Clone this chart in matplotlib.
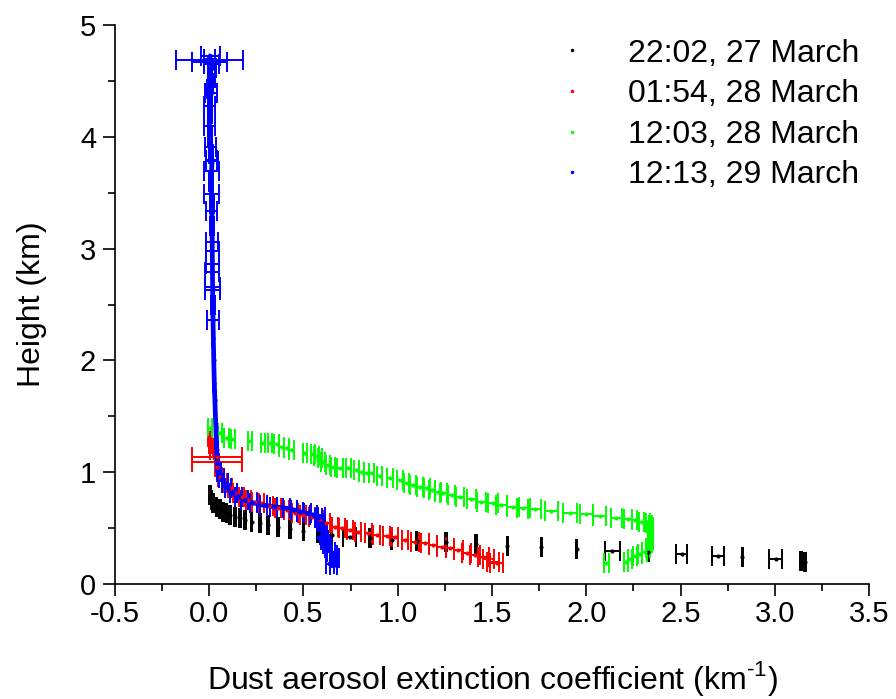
import matplotlib.pyplot as plt
from matplotlib.ticker import MultipleLocator, FormatStrFormatter

plt.rcParams['font.family'] = ['Liberation Sans', 'DejaVu Sans']
plt.rcParams['mathtext.fontset'] = 'custom'
plt.rcParams['mathtext.rm'] = 'Liberation Sans'

# Dust extinction profiles (x in km^-1, height in km)
labels = ['22:02, 27 March', '01:54, 28 March', '12:03, 28 March', '12:13, 29 March']
colors = ['#000000', '#ff0000', '#00ff00', '#0000ff']

black_x = [0.004, 0.013, 0.021, 0.039, 0.057, 0.074, 0.092, 0.110, 0.136, 0.163,
           0.189, 0.225, 0.269, 0.313, 0.366, 0.428, 0.499, 0.578, 0.649, 0.746,
           0.852, 0.967, 1.100, 1.255, 1.414, 1.582, 1.762, 1.948, 2.137, 2.328,
           2.505, 2.699, 2.828, 3.005, 3.140, 3.160]
black_h = [0.796, 0.751, 0.722, 0.692, 0.668, 0.647, 0.632, 0.617, 0.602, 0.587,
           0.572, 0.557, 0.543, 0.528, 0.513, 0.489, 0.477, 0.453, 0.438, 0.423,
           0.409, 0.394, 0.385, 0.375, 0.358, 0.343, 0.328, 0.313, 0.298, 0.283,
           0.268, 0.250, 0.238, 0.226, 0.205, 0.195]
black_err = [0.004, 0.004, 0.004, 0.004, 0.004, 0.004, 0.004, 0.004, 0.004, 0.004,
             0.004, 0.004, 0.004, 0.004, 0.004, 0.004, 0.004, 0.004, 0.004, 0.035,
             0.004, 0.004, 0.004, 0.004, 0.004, 0.004, 0.004, 0.004, 0.040, 0.004,
             0.030, 0.032, 0.004, 0.034, 0.006, 0.006]

red_x = [0.000, 0.005, 0.008, 0.010, 0.013, 0.040, 0.040, 0.039, 0.057, 0.083,
         0.110, 0.136, 0.172, 0.207, 0.242, 0.278, 0.322, 0.366, 0.410, 0.454,
         0.499, 0.543, 0.587, 0.622, 0.666, 0.702, 0.746, 0.790, 0.843, 0.888,
         0.941, 0.985, 1.038, 1.091, 1.144, 1.188, 1.232, 1.276, 1.321, 1.365,
         1.409, 1.454, 1.480, 1.506, 1.524]
red_h = [1.318, 1.280, 1.250, 1.220, 1.199, 1.139, 1.094, 1.049, 0.960, 0.900,
         0.856, 0.811, 0.781, 0.751, 0.736, 0.722, 0.698, 0.677, 0.662, 0.632,
         0.617, 0.602, 0.572, 0.543, 0.513, 0.498, 0.483, 0.468, 0.453, 0.438,
         0.429, 0.417, 0.394, 0.378, 0.364, 0.349, 0.334, 0.319, 0.304, 0.280,
         0.259, 0.238, 0.221, 0.200, 0.191]
red_err = [0.008, 0.008, 0.008, 0.008, 0.010, 0.132, 0.132, 0.010, 0.010, 0.010,
           0.012, 0.012, 0.012, 0.012, 0.014, 0.014, 0.014, 0.015, 0.015, 0.015,
           0.015, 0.016, 0.016, 0.016, 0.016, 0.016, 0.016, 0.016, 0.018, 0.018,
           0.018, 0.018, 0.018, 0.020, 0.020, 0.020, 0.022, 0.022, 0.024, 0.025,
           0.026, 0.028, 0.030, 0.032, 0.035]

green_x = [0.004, 0.057, 0.092, 0.127, 0.216, 0.286, 0.322, 0.357, 0.384, 0.410,
           0.437, 0.507, 0.551, 0.569, 0.587, 0.604, 0.631, 0.657, 0.693, 0.737,
           0.782, 0.808, 0.835, 0.861, 0.905, 0.958, 1.011, 1.047, 1.082, 1.117,
           1.153, 1.179, 1.215, 1.241, 1.285, 1.329, 1.391, 1.444, 1.506, 1.550,
           1.612, 1.665, 1.727, 1.815, 1.912, 2.001, 2.072, 2.160, 2.222, 2.257,
           2.293, 2.329, 2.340, 2.345, 2.342, 2.338, 2.344, 2.340, 2.343, 2.338,
           2.329, 2.310, 2.284, 2.257, 2.231, 2.210, 2.107]
green_h = [1.393, 1.348, 1.303, 1.294, 1.282, 1.264, 1.258, 1.249, 1.228, 1.214,
           1.199, 1.174, 1.163, 1.145, 1.124, 1.094, 1.064, 1.049, 1.035, 1.035,
           1.020, 1.004, 0.990, 0.990, 0.966, 0.945, 0.930, 0.906, 0.886, 0.870,
           0.856, 0.841, 0.826, 0.811, 0.796, 0.781, 0.757, 0.736, 0.722, 0.707,
           0.692, 0.677, 0.668, 0.653, 0.638, 0.623, 0.608, 0.593, 0.581, 0.572,
           0.557, 0.543, 0.528, 0.513, 0.498, 0.483, 0.453, 0.423, 0.394, 0.364,
           0.319, 0.289, 0.268, 0.250, 0.221, 0.200, 0.191]
green_err = [0.012, 0.012, 0.012, 0.012, 0.012, 0.012, 0.012, 0.012, 0.012, 0.012,
             0.012, 0.012, 0.012, 0.012, 0.012, 0.012, 0.012, 0.012, 0.014, 0.014,
             0.014, 0.014, 0.014, 0.014, 0.014, 0.015, 0.015, 0.015, 0.015, 0.015,
             0.016, 0.016, 0.016, 0.018, 0.018, 0.020, 0.022, 0.024, 0.028, 0.030,
             0.032, 0.034, 0.034, 0.035, 0.036, 0.036, 0.034, 0.030, 0.020, 0.014,
             0.012, 0.010, 0.010, 0.010, 0.010, 0.010, 0.010, 0.010, 0.010, 0.010,
             0.010, 0.012, 0.012, 0.012, 0.012, 0.012, 0.014]

blue_x = [0.005, 0.000, 0.002, 0.000, 0.010, 0.015, 0.005, 0.020, 0.010, 0.000,
          0.010, 0.005, 0.000, 0.005, 0.000, 0.005, 0.008, 0.010, 0.012, 0.015,
          0.012, 0.010, 0.012, 0.015, 0.014, 0.015, 0.016, 0.016, 0.017, 0.017,
          0.018, 0.018, 0.019, 0.020, 0.022, 0.024, 0.027, 0.030, 0.035, 0.039,
          0.042, 0.053, 0.066, 0.083, 0.101, 0.127, 0.154, 0.189, 0.233, 0.286,
          0.339, 0.410, 0.450, 0.481, 0.520, 0.551, 0.596, 0.578, 0.587, 0.596,
          0.605, 0.613, 0.622, 0.631, 0.645, 0.660, 0.670, 0.658, 0.640, 0.660]
blue_h = [4.720, 4.700, 4.687, 4.670, 4.650, 4.620, 4.580, 4.530, 4.480, 4.430,
          4.390, 4.330, 4.280, 4.200, 4.100, 4.000, 3.910, 3.850, 3.790, 3.780,
          3.690, 3.600, 3.490, 3.400, 3.340, 3.200, 3.060, 2.980, 2.860, 2.790,
          2.660, 2.630, 2.500, 2.360, 2.200, 2.000, 1.800, 1.646, 1.400, 1.199,
          1.080, 1.004, 0.945, 0.900, 0.856, 0.811, 0.781, 0.751, 0.727, 0.707,
          0.692, 0.677, 0.662, 0.647, 0.632, 0.617, 0.602, 0.588, 0.543, 0.483,
          0.440, 0.394, 0.355, 0.319, 0.290, 0.259, 0.230, 0.200, 0.180, 0.170]
blue_err = [0.050, 0.030, 0.178, 0.094, 0.040, 0.020, 0.010, 0.010, 0.010, 0.010,
            0.030, 0.010, 0.030, 0.010, 0.030, 0.010, 0.030, 0.010, 0.030, 0.031,
            0.038, 0.010, 0.041, 0.010, 0.029, 0.010, 0.032, 0.035, 0.035, 0.037,
            0.039, 0.039, 0.010, 0.031, 0.005, 0.005, 0.005, 0.005, 0.005, 0.005,
            0.008, 0.010, 0.012, 0.014, 0.016, 0.018, 0.018, 0.018, 0.018, 0.018,
            0.018, 0.018, 0.018, 0.018, 0.018, 0.018, 0.018, 0.018, 0.018, 0.018,
            0.018, 0.018, 0.018, 0.018, 0.020, 0.020, 0.020, 0.020, 0.020, 0.020]

series = [(black_x, black_h, black_err), (red_x, red_h, red_err),
          (green_x, green_h, green_err), (blue_x, blue_h, blue_err)]

fig = plt.figure(figsize=(8.96, 6.99), dpi=100)
ax = fig.add_axes([0.1283, 0.1645, 0.8417, 0.7997])

for (x, h, e), c, lab in zip(series, colors, labels):
    if c == '#0000ff':
        ax.plot(x, h, color=c, lw=3.4, zorder=3)
    ax.errorbar(x, h, xerr=e, fmt='.', color=c, ms=4, elinewidth=1.4,
                capsize=7, capthick=1.4, label=lab, zorder=3)

ax.set_xlim(-0.5, 3.5)
ax.set_ylim(0, 5)
ax.xaxis.set_major_locator(MultipleLocator(0.5))
ax.xaxis.set_minor_locator(MultipleLocator(0.25))
ax.xaxis.set_major_formatter(FormatStrFormatter('%.1f'))
ax.yaxis.set_major_locator(MultipleLocator(1))
ax.yaxis.set_minor_locator(MultipleLocator(0.5))

ax.spines['top'].set_visible(False)
ax.spines['right'].set_visible(False)
for s in ['left', 'bottom']:
    ax.spines[s].set_linewidth(1.2)
ax.tick_params(which='major', direction='out', length=8.5, width=1.2,
               labelsize=21)
ax.tick_params(which='minor', direction='out', length=5, width=1.2)
ax.tick_params(axis='x', pad=3)
ax.tick_params(axis='y', pad=5)

ax.set_xlabel('Dust aerosol extinction coefficient (km$^{\u20101}$)', fontsize=23,
              labelpad=22)
ax.set_ylabel('Height (km)', fontsize=23, labelpad=24)

# legend: dot markers only, no error bars
handles = [plt.Line2D([], [], ls='none', marker='.', ms=3, color=c) for c in colors]
ax.legend(handles, labels, loc='upper right', bbox_to_anchor=(1.012, 1.01),
          frameon=False, fontsize=23, labelspacing=0.33, handlelength=1.0,
          handletextpad=1.25, borderaxespad=0.2)

fig.savefig('out.png', dpi=100, facecolor='white')
